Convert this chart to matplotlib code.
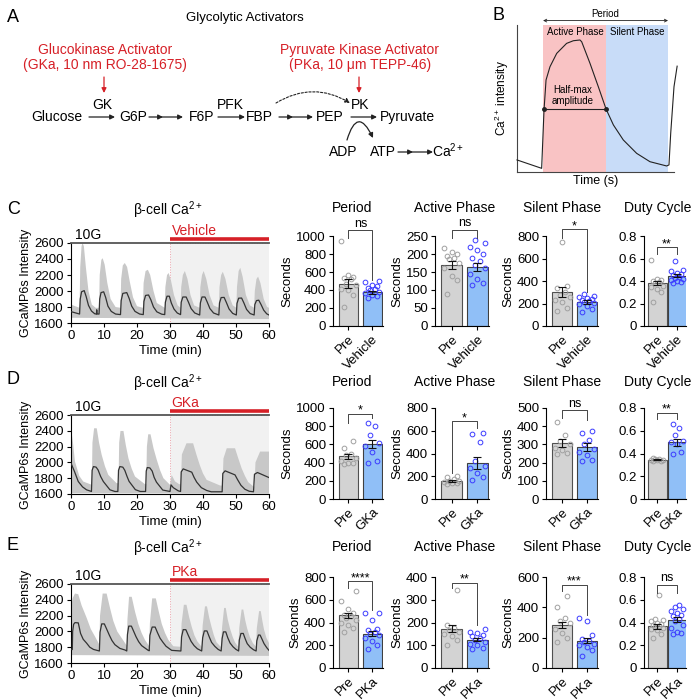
import matplotlib
matplotlib.use('Agg')
import matplotlib.pyplot as plt
import matplotlib.transforms as mtransforms
from matplotlib.patches import Rectangle

plt.rcParams['font.family'] = ['Liberation Sans', 'DejaVu Sans']
plt.rcParams['mathtext.fontset'] = 'custom'
plt.rcParams['mathtext.rm'] = 'Liberation Sans'
plt.rcParams['mathtext.it'] = 'Liberation Sans:italic'
plt.rcParams['mathtext.bf'] = 'Liberation Sans:bold'
plt.rcParams['axes.linewidth'] = 0.8

# ---------------- data ----------------
# Panel B schematic trace (normalised time, normalised intensity)
B_t = [0, 0.157, 0.172, 0.185, 0.21, 0.253, 0.316, 0.359, 0.401, 0.412, 0.465, 0.518, 0.567,
       0.614, 0.677, 0.762, 0.847, 0.953, 0.968, 0.979, 1.0, 1.02]
B_I = [0.082, 0.025, 0.42, 0.626, 0.716, 0.807, 0.875, 0.893, 0.898, 0.886, 0.739, 0.58, 0.429,
       0.32, 0.218, 0.127, 0.07, 0.041, 0.048, 0.263, 0.58, 0.72]
B_active = [0.166, 0.567]
B_silent = [0.567, 0.962]
B_halfmax = 0.429

# Traces (time in min, GCaMP6s intensity)
C_mean = [(0, 1742), (2.6, 1712), (2.8, 1900), (3.2, 1990), (4.0, 2005), (4.6, 1930), (5.3, 1820), (6.2, 1750),
          (7.2, 1715), (7.7, 1712), (7.8, 1765), (7.9, 1712), (8.5, 1712), (8.7, 1900), (9.1, 1980), (9.9, 1990),
          (10.5, 1920), (11.2, 1810), (12.2, 1745), (13.5, 1712), (15.0, 1705), (15.2, 1880), (15.7, 1970),
          (16.9, 1980), (17.6, 1910), (18.4, 1810), (19.4, 1745), (20.8, 1712), (21.9, 1705), (22.1, 1870),
          (22.6, 1945), (23.5, 1950), (24.2, 1890), (25.0, 1800), (26.0, 1740), (27.5, 1710), (28.4, 1705),
          (28.6, 1860), (29.1, 1935), (29.8, 1935), (30.4, 1850), (31.2, 1775), (32.2, 1725), (33.2, 1705),
          (33.4, 1860), (33.9, 1925), (34.9, 1925), (35.6, 1860), (36.4, 1780), (37.5, 1725), (39.0, 1700),
          (39.2, 1850), (39.7, 1925), (40.6, 1925), (41.3, 1860), (42.1, 1780), (43.2, 1725), (44.8, 1700),
          (45.0, 1850), (45.5, 1918), (46.4, 1920), (47.1, 1855), (47.9, 1775), (49.0, 1720), (50.1, 1700),
          (50.3, 1845), (50.8, 1910), (51.7, 1912), (52.4, 1850), (53.2, 1770), (54.3, 1718), (55.5, 1700),
          (55.7, 1830), (56.2, 1880), (56.9, 1885), (57.6, 1830), (58.4, 1760), (59.3, 1715), (60, 1700)]
C_upper = [(0, 1830), (2.6, 1790), (2.8, 2300), (3.2, 2560), (3.5, 2600), (3.9, 2560), (4.5, 2300), (5.3, 2000),
           (6.3, 1830), (7.5, 1790), (8.5, 1790), (8.7, 2200), (9.2, 2390), (9.6, 2410), (10.2, 2330), (11.0, 2100),
           (12.0, 1900), (13.5, 1800), (15.0, 1790), (15.2, 2150), (15.7, 2320), (16.3, 2350), (17.0, 2300),
           (17.8, 2120), (18.8, 1920), (20.0, 1810), (21.8, 1790), (22.0, 2100), (22.6, 2250), (23.3, 2265),
           (24.0, 2200), (25.0, 2000), (26.0, 1850), (28.4, 1790), (28.6, 2050), (29.1, 2200), (29.6, 2225),
           (30.3, 2130), (31.2, 1950), (32.3, 1820), (33.2, 1790), (33.4, 2050), (33.9, 2200), (34.5, 2250),
           (35.3, 2150), (36.2, 1950), (37.3, 1820), (39.0, 1790), (39.2, 2050), (39.7, 2200), (40.2, 2250),
           (41.0, 2150), (42.0, 1950), (43.2, 1820), (44.8, 1790), (45.0, 2050), (45.5, 2200), (46.0, 2240),
           (46.8, 2150), (47.8, 1950), (49.0, 1820), (50.1, 1790), (50.3, 2050), (50.8, 2250), (51.3, 2290),
           (52.0, 2180), (53.0, 1950), (54.2, 1820), (55.5, 1790), (55.7, 2000), (56.2, 2150), (56.7, 2180),
           (57.4, 2100), (58.4, 1900), (59.4, 1800), (60, 1790)]
C_lower = [(0, 1665), (60, 1650)]

D_mean = [(0, 1990), (1.1, 1880), (2.2, 1758), (3.5, 1690), (4.7, 1653), (6.2, 1632), (6.4, 1900), (6.8, 1947),
          (7.6, 1940), (8.2, 1905), (9.0, 1820), (9.8, 1758), (11.8, 1653), (13.3, 1632), (14.2, 1632),
          (14.4, 1900), (14.8, 1947), (15.7, 1940), (16.3, 1900), (17.0, 1820), (17.6, 1760), (19.5, 1655),
          (21.0, 1632), (22.6, 1632), (22.8, 1890), (23.1, 1935), (23.9, 1930), (24.6, 1890), (25.2, 1810),
          (25.9, 1750), (27.8, 1650), (30.0, 1632), (30.3, 1716), (31.0, 1680), (32.5, 1640), (33.2, 1632),
          (33.4, 1880), (34.0, 1918), (36.6, 1876), (37.3, 1810), (38.1, 1750), (39.5, 1680), (41.1, 1645),
          (42.5, 1628), (45.8, 1628), (46.0, 1860), (46.7, 1893), (49.7, 1842), (50.5, 1780), (51.5, 1710),
          (52.7, 1660), (54.0, 1635), (55.3, 1628), (55.6, 1850), (56.5, 1872), (60, 1808)]
D_upper = [(0, 2432), (0.6, 2250), (1.2, 2011), (2.5, 1830), (3.7, 1758), (6.3, 1716), (6.5, 2250), (7.0, 2432),
           (7.8, 2432), (8.5, 2250), (9.3, 2095), (10.3, 1950), (11.3, 1842), (13.8, 1737), (14.4, 1737),
           (14.6, 2250), (15.0, 2398), (15.9, 2398), (16.6, 2220), (17.4, 2053), (18.4, 1920), (19.4, 1821),
           (22.4, 1724), (22.8, 1724), (23.0, 2200), (23.4, 2356), (24.1, 2356), (25.0, 2180), (26.0, 2032),
           (27.0, 1900), (28.0, 1800), (30.0, 1716), (30.5, 1842), (31.5, 1760), (32.8, 1724), (33.3, 1724),
           (33.6, 2100), (35.0, 2242), (37.0, 2242), (38.0, 2100), (39.0, 1969), (40.0, 1860), (41.1, 1779),
           (45.2, 1707), (45.9, 1707), (46.2, 2050), (47.2, 2179), (49.7, 2179), (50.7, 2050), (51.7, 1926),
           (52.7, 1830), (53.7, 1750), (55.3, 1695), (55.6, 1695), (55.9, 2000), (57.3, 2137), (60, 2137)]
D_lower = [(0, 1610), (60, 1605)]

E_mean = [(0, 1772), (0.4, 1770), (0.5, 2000), (0.8, 2090), (1.2, 2111), (2.2, 2108), (2.9, 1974), (3.7, 1900),
          (4.7, 1853), (5.7, 1800), (6.8, 1772), (8.6, 1752), (8.8, 1990), (9.3, 2095), (10.1, 2095),
          (10.8, 2030), (11.6, 1954), (12.4, 1885), (13.3, 1832), (14.8, 1785), (16.4, 1764), (16.9, 1752),
          (17.1, 1960), (17.5, 2067), (18.3, 2067), (19.0, 2000), (19.7, 1933), (20.5, 1870), (21.4, 1820),
          (23.4, 1760), (23.7, 1755), (23.9, 1950), (24.6, 2055), (25.5, 2055), (26.2, 1985), (27.0, 1913),
          (27.9, 1860), (28.8, 1812), (30.5, 1760), (33.3, 1752), (33.5, 1930), (34.0, 2022), (34.8, 2022),
          (35.6, 1945), (36.4, 1873), (37.3, 1820), (38.3, 1780), (39.6, 1752), (39.9, 1920), (40.4, 2006),
          (41.2, 2006), (41.9, 1930), (42.6, 1861), (43.6, 1810), (44.6, 1772), (45.5, 1752), (45.8, 1910),
          (46.2, 1994), (46.9, 1994), (47.5, 1920), (48.2, 1853), (49.1, 1805), (50.0, 1772), (50.8, 1752),
          (51.0, 1890), (51.5, 1974), (52.2, 1974), (52.8, 1905), (53.4, 1845), (54.3, 1800), (55.3, 1768),
          (56.1, 1752), (56.3, 1880), (56.8, 1954), (57.3, 1954), (57.9, 1900), (58.5, 1845), (59.3, 1795),
          (60, 1760)]
E_upper = [(0, 2300), (0.5, 2420), (1.2, 2480), (2.2, 2470), (3.2, 2330), (4.7, 2176), (6.0, 2030), (7.3, 1933),
           (8.6, 1832), (8.8, 2200), (9.6, 2479), (10.8, 2479), (11.8, 2300), (12.8, 2135), (14.0, 2000),
           (15.4, 1913), (16.9, 1820), (17.1, 2150), (17.6, 2438), (18.4, 2438), (19.4, 2250), (20.4, 2095),
           (21.4, 1980), (22.4, 1893), (23.7, 1812), (23.9, 2100), (24.6, 2418), (25.7, 2418), (26.6, 2250),
           (27.5, 2095), (28.5, 1980), (29.5, 1893), (31.0, 1812), (33.3, 1805), (33.5, 2100), (34.2, 2337),
           (35.0, 2337), (35.8, 2180), (36.6, 2055), (37.4, 1950), (38.3, 1873), (39.6, 1804), (39.9, 2080),
           (40.6, 2317), (41.2, 2317), (41.9, 2170), (42.6, 2055), (43.3, 1950), (44.1, 1861), (45.4, 1804),
           (45.8, 2060), (46.4, 2297), (46.9, 2297), (47.5, 2150), (48.2, 2034), (49.0, 1930), (49.7, 1861),
           (50.7, 1804), (51.0, 2050), (51.7, 2277), (52.2, 2277), (52.8, 2140), (53.4, 2034), (54.2, 1930),
           (55.1, 1853), (56.1, 1804), (56.3, 2040), (57.0, 2257), (57.5, 2257), (58.0, 2130), (58.5, 2022),
           (59.2, 1920), (60, 1853)]
E_lower = [(0, 1700), (60, 1690)]

trace_xticks = [0, 10, 20, 30, 40, 50, 60]
trace_yticks = [1600, 1800, 2000, 2200, 2400, 2600]

# Bar charts: metrics order = Period, Active Phase, Silent Phase, Duty Cycle
metric_titles = ['Period', 'Active Phase', 'Silent Phase', 'Duty Cycle']
row_drugs = ['Vehicle', 'GKa', 'PKa']

C_mean_pre = [472, 169, 302, 0.384]
C_sem_pre = [55, 12, 45, 0.02]
C_mean_drug = [373, 164, 214, 0.448]
C_sem_drug = [15, 10, 15, 0.012]
C_sig = ['ns', 'ns', '*', '**']
C_period_pre = [945, 565, 546, 530, 520, 470, 455, 415, 400, 345, 215]
C_period_drug = [495, 490, 455, 450, 420, 410, 400, 380, 365, 345, 330, 310]
C_active_pre = [218, 205, 200, 195, 190, 185, 175, 160, 140, 128, 90]
C_active_drug = [238, 230, 220, 210, 200, 190, 180, 170, 160, 145, 130, 120, 113]
C_silent_pre = [745, 355, 340, 300, 280, 260, 230, 210, 160, 130]
C_silent_drug = [285, 270, 262, 250, 240, 232, 222, 212, 205, 195, 180, 150, 125]
C_duty_pre = [0.59, 0.42, 0.41, 0.40, 0.39, 0.38, 0.36, 0.35, 0.33, 0.30, 0.21]
C_duty_drug = [0.58, 0.50, 0.49, 0.47, 0.46, 0.45, 0.44, 0.43, 0.42, 0.41, 0.40, 0.39, 0.38]

D_mean_pre = [469, 155, 308, 0.346]
D_sem_pre = [25, 8, 20, 0.005]
D_mean_drug = [604, 316, 286, 0.498]
D_sem_drug = [45, 50, 22, 0.03]
D_sig = ['*', '*', 'ns', '**']
D_period_pre = [635, 555, 500, 480, 450, 420, 400, 395, 390]
D_period_drug = [830, 800, 705, 620, 585, 520, 415, 400]
D_active_pre = [205, 190, 175, 160, 155, 150, 145, 140, 130]
D_active_drug = [580, 570, 500, 330, 290, 270, 230, 190, 170]
D_silent_pre = [425, 350, 320, 300, 280, 270, 255, 250]
D_silent_drug = [375, 365, 325, 300, 275, 260, 240, 215, 210]
D_duty_pre = [0.36, 0.355, 0.35, 0.345, 0.34, 0.34, 0.335, 0.33]
D_duty_drug = [0.66, 0.62, 0.56, 0.51, 0.50, 0.48, 0.41, 0.40]

E_mean_pre = [463, 173, 286, 0.366]
E_sem_pre = [22, 15, 20, 0.02]
E_mean_drug = [302, 125, 180, 0.425]
E_sem_drug = [20, 7, 15, 0.02]
E_sig = ['****', '**', '***', 'ns']
E_period_pre = [675, 590, 520, 480, 470, 460, 440, 420, 400, 380, 350, 320]
E_period_drug = [480, 480, 420, 340, 330, 320, 300, 290, 260, 240, 200, 170]
E_active_pre = [345, 190, 175, 165, 160, 150, 140, 125, 100]
E_active_drug = [170, 160, 155, 145, 140, 130, 125, 115, 105, 100, 90, 85]
E_silent_pre = [475, 400, 330, 310, 300, 260, 230, 200, 170]
E_silent_drug = [330, 310, 220, 190, 180, 170, 160, 150, 140, 120, 80]
E_duty_pre = [0.64, 0.43, 0.42, 0.41, 0.40, 0.39, 0.38, 0.37, 0.36, 0.35, 0.34, 0.33, 0.30, 0.26]
E_duty_drug = [0.55, 0.54, 0.52, 0.50, 0.48, 0.47, 0.46, 0.43, 0.41, 0.38, 0.35, 0.32, 0.31, 0.30]

C_ymax = [1000, 250, 800, 0.8]
C_ystep = [200, 50, 200, 0.2]
D_ymax = [1000, 800, 500, 0.8]
D_ystep = [200, 200, 100, 0.2]
E_ymax = [800, 400, 600, 0.8]
E_ystep = [200, 100, 200, 0.2]

# ---------------- layout (pixels) ----------------
W = H = 700
RED = '#d62027'
fig = plt.figure(figsize=(7, 7), dpi=100)


def rect(l, t, r, b):
    return [l / W, 1 - b / H, (r - l) / W, (b - t) / H]


ov = fig.add_axes([0, 0, 1, 1])
ov.set_xlim(0, W)
ov.set_ylim(H, 0)
ov.axis('off')


def arrow(x0, y0, x1, y1, color='#222222', ls='-', rad=0.0, ms=7, lw=0.9):
    ov.annotate('', xy=(x1, y1), xytext=(x0, y0),
                arrowprops=dict(arrowstyle='-|>', color=color, lw=lw, linestyle=ls,
                                shrinkA=0, shrinkB=0, mutation_scale=ms,
                                connectionstyle='arc3,rad=%s' % rad))


# ---- Panel A ----
ov.text(7, 17, 'A', fontsize=13, va='center', ha='left')
ov.text(245, 18, 'Glycolytic Activators', fontsize=9.5, ha='center', va='center')
ov.text(105, 50, 'Glucokinase Activator', fontsize=10, color=RED, ha='center', va='center')
ov.text(105, 65, '(GKa, 10 nm RO-28-1675)', fontsize=10, color=RED, ha='center', va='center')
ov.text(360, 50, 'Pyruvate Kinase Activator', fontsize=10, color=RED, ha='center', va='center')
ov.text(360, 65, '(PKa, 10 \u03bcm TEPP-46)', fontsize=10, color=RED, ha='center', va='center')
arrow(104, 77, 104, 93, color=RED)
arrow(359, 77, 359, 93, color=RED)
row_y = 117
for txt, x in [('Glucose', 57), ('G6P', 133), ('F6P', 202), ('FBP', 259), ('PEP', 330), ('Pyruvate', 407)]:
    ov.text(x, row_y, txt, fontsize=10, ha='center', va='center')
for txt, x in [('GK', 102), ('PFK', 230), ('PK', 360)]:
    ov.text(x, 105, txt, fontsize=10, ha='center', va='center')
arrow(89, row_y, 115, row_y)
arrow(149, row_y, 163, row_y)
arrow(162, row_y, 183, row_y)
arrow(218, row_y, 245, row_y)
arrow(279, row_y, 293, row_y)
arrow(292, row_y, 313, row_y)
arrow(351, row_y, 377, row_y)
arrow(276, 103, 350, 103, ls=(0, (2, 1.5)), rad=-0.3, lw=0.8)
ov.text(343, 152, 'ADP', fontsize=10, ha='center', va='center')
ov.text(383, 152, 'ATP', fontsize=10, ha='center', va='center')
ov.text(448, 151, 'Ca$^{2+}$', fontsize=10, ha='center', va='center')
arrow(347, 140, 373, 138, rad=-1.3)
arrow(398, 152, 413, 152)
arrow(412, 152, 433, 152)

# ---- Panel B ----
ov.text(492, 15, 'B', fontsize=13, va='center', ha='left')
axb = fig.add_axes(rect(517, 25, 674, 172))
axb.set_xlim(0, 1)
axb.set_ylim(0, 1)
axb.axvspan(B_active[0], B_active[1], color='#f9c3c4', lw=0, zorder=0)
axb.axvspan(B_silent[0], B_silent[1], color='#c8dcf8', lw=0, zorder=0)
axb.plot(B_t, B_I, color='#222222', lw=0.8, clip_on=False, zorder=3)
axb.plot([B_t[2], B_active[1]], [B_halfmax, B_halfmax], color='#222222', lw=0.8,
         marker='o', ms=2.5, zorder=4)
axb.annotate('', xy=(B_silent[1], 1.03), xytext=(B_active[0], 1.03),
             arrowprops=dict(arrowstyle='<->', lw=0.6, mutation_scale=5, shrinkA=0, shrinkB=0,
                             color='#222222'), annotation_clip=False)
axb.text(0.564, 1.075, 'Period', fontsize=7, ha='center', va='center')
axb.text(0.369, 0.95, 'Active Phase', fontsize=7, ha='center', va='center')
axb.text(0.764, 0.95, 'Silent Phase', fontsize=7, ha='center', va='center')
axb.text(0.357, 0.52, 'Half-max\namplitude', fontsize=7, ha='center', va='center', linespacing=1.15)
for s in ['top', 'right']:
    axb.spines[s].set_visible(False)
axb.spines['left'].set_color('#444444')
axb.spines['bottom'].set_color('#444444')
axb.set_xticks([])
axb.set_yticks([])
axb.set_ylabel('Ca$^{2+}$ intensity', fontsize=8.5, labelpad=4)
axb.set_xlabel('Time (s)', fontsize=9, labelpad=2)


# ---- Traces ----
def draw_trace(r, mean, upper, lower, drug):
    ax = fig.add_axes(r)
    ax.set_xlim(0, 60)
    ax.set_ylim(1600, 2600)
    ax.add_patch(Rectangle((30, 1600), 30, 1000, facecolor='#f1f1f1', edgecolor='#eba3ab',
                           ls=':', lw=0.7, zorder=0))
    xs = [p[0] for p in upper] + [p[0] for p in reversed(lower)]
    ys = [p[1] for p in upper] + [p[1] for p in reversed(lower)]
    ax.fill(xs, ys, color='#c8c8c8', lw=0, zorder=2)
    ax.plot([p[0] for p in mean], [p[1] for p in mean], color='#333333', lw=0.9, zorder=3)
    for s in ['top', 'right']:
        ax.spines[s].set_visible(False)
    ax.plot([0, 60], [2600, 2600], color='#555555', lw=1.3, clip_on=False, zorder=4)
    trans = mtransforms.blended_transform_factory(ax.transData, ax.transAxes)
    ax.plot([30, 60], [1.045, 1.045], transform=trans, color=RED, lw=2.6, clip_on=False,
            solid_capstyle='butt')
    ax.text(1.3, 1.01, '10G', transform=trans, fontsize=10, va='bottom', ha='left')
    ax.text(30.5, 1.065, drug, transform=trans, fontsize=10, va='bottom', ha='left', color=RED)
    ax.set_xticks(trace_xticks)
    ax.set_yticks(trace_yticks)
    ax.tick_params(labelsize=9.5, length=3, width=0.8, pad=2)
    ax.set_ylabel('GCaMP6s Intensity', fontsize=9, labelpad=2)
    ax.set_xlabel('Time (min)', fontsize=9.5, labelpad=2)
    return ax


trace_rects = [rect(71, 243, 269, 323), rect(71, 415, 269, 494), rect(71, 584, 269, 663)]
draw_trace(trace_rects[0], C_mean, C_upper, C_lower, row_drugs[0])
draw_trace(trace_rects[1], D_mean, D_upper, D_lower, row_drugs[1])
draw_trace(trace_rects[2], E_mean, E_upper, E_lower, row_drugs[2])

for lab, y in [('C', 210), ('D', 380), ('E', 546)]:
    ov.text(7, y, lab, fontsize=13, va='center', ha='left')
for y in [210, 383, 548]:
    ov.text(168, y, '\u03b2-cell Ca$^{2+}$', fontsize=10, ha='center', va='center')

# ---- Bar charts ----
col_left = [333, 435, 546, 644]
col_width = [50, 54, 52, 42]
col_title_x = [352, 455, 562, 658]
row_tb = [(236, 326), (408, 499), (577, 668)]
row_title_y = [208, 382, 547]

C_brackets = [(1063, 975, 515), (268, 245, 245), (858, 785, 302), (0.70, 0.64, 0.64)]
D_brackets = [(934, 835, 890), (683, 229, 624), (487, 445, 436), (0.756, 0.70, 0.70)]
E_brackets = [(762, 703, 513), (374, 352, 190), (550, 505, 352), (0.733, 0.66, 0.66)]

offsets_pattern = [-0.2, 0.2, 0.0, -0.3, 0.3, -0.1, 0.1]


def spread(vals):
    order = sorted(range(len(vals)), key=lambda i: vals[i])
    offs = [0.0] * len(vals)
    for k, i in enumerate(order):
        offs[i] = offsets_pattern[k % len(offsets_pattern)]
    return offs


def draw_bar(ax, pre, drug, mpre, spre, mdrug, sdrug, ymax, ystep, drug_label, sig, br, ylabel, duty):
    bw = 0.82 if not duty else 0.95
    ax.bar([0], [mpre], width=bw, color='#d3d3d3', edgecolor='#505050', lw=0.8, zorder=1)
    ax.bar([1], [mdrug], width=bw, color='#90bff7', edgecolor='#404040', lw=0.8, zorder=1)
    ax.plot([0 + o for o in spread(pre)], pre, 'o', mfc='none', mec='#a0a0a0', ms=3.4, mew=0.7,
            zorder=3, clip_on=False)
    ax.plot([1 + o for o in spread(drug)], drug, 'o', mfc='none', mec='#3b3bff', ms=3.4, mew=0.7,
            zorder=3, clip_on=False)
    ax.errorbar([0, 1], [mpre, mdrug], yerr=[spre, sdrug], fmt='none', ecolor='#111111',
                elinewidth=0.8, capsize=3, capthick=0.8, zorder=4)
    ax.set_xlim(-0.65, 1.45)
    ax.set_ylim(0, ymax)
    n = int(round(ymax / ystep))
    ticks = [ystep * i for i in range(n + 1)]
    ax.set_yticks(ticks)
    if duty:
        ax.set_yticklabels(['0'] + ['%.1f' % t for t in ticks[1:]])
    for s in ['top', 'right']:
        ax.spines[s].set_visible(False)
    ax.set_xticks([0, 1])
    ax.set_xticklabels(['Pre', drug_label], rotation=45, ha='right', rotation_mode='anchor')
    ax.tick_params(labelsize=9.5, length=3, width=0.8, pad=2)
    if ylabel:
        ax.set_ylabel('Seconds', fontsize=9.5, labelpad=2)
    by, l_end, r_end = br
    ax.plot([0, 0, 1, 1], [l_end, by, by, r_end], color='#444444', lw=0.7, clip_on=False, zorder=5)
    if sig == 'ns':
        ax.annotate(sig, (0.5, by), xytext=(0, 0.5), textcoords='offset points', ha='center',
                    va='bottom', fontsize=9, annotation_clip=False)
    else:
        ax.annotate(sig, (0.5, by), xytext=(0, -2), textcoords='offset points', ha='center',
                    va='bottom', fontsize=9, annotation_clip=False)


rows = [
    (row_drugs[0], C_mean_pre, C_sem_pre, C_mean_drug, C_sem_drug, C_sig, C_ymax, C_ystep, C_brackets,
     [(C_period_pre, C_period_drug), (C_active_pre, C_active_drug), (C_silent_pre, C_silent_drug),
      (C_duty_pre, C_duty_drug)]),
    (row_drugs[1], D_mean_pre, D_sem_pre, D_mean_drug, D_sem_drug, D_sig, D_ymax, D_ystep, D_brackets,
     [(D_period_pre, D_period_drug), (D_active_pre, D_active_drug), (D_silent_pre, D_silent_drug),
      (D_duty_pre, D_duty_drug)]),
    (row_drugs[2], E_mean_pre, E_sem_pre, E_mean_drug, E_sem_drug, E_sig, E_ymax, E_ystep, E_brackets,
     [(E_period_pre, E_period_drug), (E_active_pre, E_active_drug), (E_silent_pre, E_silent_drug),
      (E_duty_pre, E_duty_drug)]),
]

for ri, (drug_label, mp, sp, md, sd, sig, ymax, ystep, brs, pts) in enumerate(rows):
    top, bot = row_tb[ri]
    for ci in range(4):
        l = col_left[ci]
        ax = fig.add_axes(rect(l, top, l + col_width[ci], bot))
        draw_bar(ax, pts[ci][0], pts[ci][1], mp[ci], sp[ci], md[ci], sd[ci], ymax[ci], ystep[ci],
                 drug_label, sig[ci], brs[ci], ci < 3, ci == 3)
        ov.text(col_title_x[ci], row_title_y[ri], metric_titles[ci], fontsize=10, ha='center',
                va='center')

fig.savefig('out.png', dpi=100)
